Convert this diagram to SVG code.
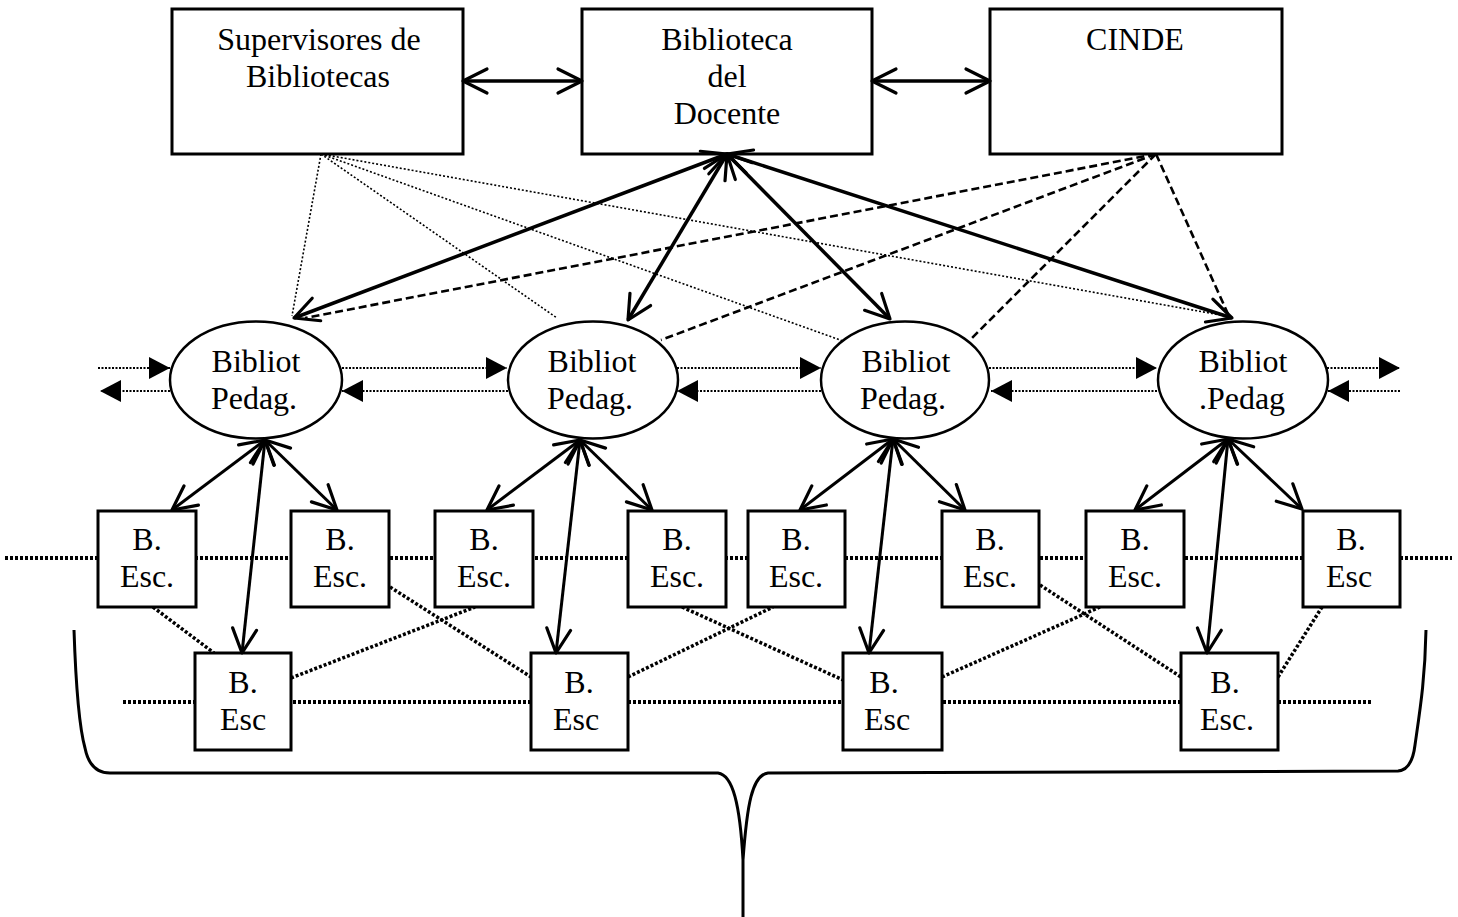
<svg xmlns="http://www.w3.org/2000/svg" width="1458" height="917" viewBox="0 0 1458 917">
<style>
text{font-family:"Liberation Serif","Times New Roman",serif;font-size:32px;fill:#000;text-anchor:middle}
.box{fill:#fff;stroke:#000;stroke-width:3}
.ell{fill:#fff;stroke:#000;stroke-width:2.5}
.solid{fill:none;stroke:#000;stroke-width:3.5;marker-start:url(#open);marker-end:url(#open)}
.solid2{fill:none;stroke:#000;stroke-width:3;marker-start:url(#open);marker-end:url(#open)}
.sup{fill:none;stroke:#000;stroke-width:1.6;stroke-dasharray:2 2}
.cinde{fill:none;stroke:#000;stroke-width:2.6;stroke-dasharray:8 4}
.harr{fill:none;stroke:#000;stroke-width:2.2;stroke-dasharray:2 1.5;marker-end:url(#tri)}
.hdot{fill:none;stroke:#000;stroke-width:4;stroke-dasharray:3 2}
.ddot{fill:none;stroke:#000;stroke-width:3.5;stroke-dasharray:3 2}
.brace{fill:none;stroke:#000;stroke-width:3}
</style>
<defs>
<marker id="open" viewBox="0 0 30 30" refX="27" refY="15" markerWidth="30" markerHeight="30" markerUnits="userSpaceOnUse" orient="auto-start-reverse" overflow="visible">
<path d="M3,3 L27,15 L3,27" fill="none" stroke="#000" stroke-width="3.2" stroke-linecap="round" stroke-linejoin="round"/>
</marker>
<marker id="tri" viewBox="0 0 21 22" refX="21" refY="11" markerWidth="21" markerHeight="22" markerUnits="userSpaceOnUse" orient="auto" overflow="visible">
<path d="M0,0 L21,11 L0,22 Z" fill="#000"/>
</marker>
</defs>

<g id="background-lines">
<path class="hdot" d="M5,558 H1452"/>
<path class="hdot" d="M123,702 H1372"/>
</g>

<g id="connectors">
<!-- Supervisores dotted -->
<path class="sup" d="M321,154 L292,316"/>
<path class="sup" d="M321,154 L557,318"/>
<path class="sup" d="M321,154 L843,341"/>
<path class="sup" d="M321,154 L1226,316"/>
<!-- CINDE dashed -->
<path class="cinde" d="M1156,154 L305,318"/>
<path class="cinde" d="M1156,154 L661,340"/>
<path class="cinde" d="M1156,154 L970,340"/>
<path class="cinde" d="M1156,154 L1228,314"/>
<!-- diagonal dotted between rows -->
<path class="ddot" d="M153,607 L214,653"/>
<path class="ddot" d="M291,678 L475,607"/>
<path class="ddot" d="M390,587 L531,677"/>
<path class="ddot" d="M628,677 L773,607"/>
<path class="ddot" d="M682,607 L843,680"/>
<path class="ddot" d="M942,677 L1100,607"/>
<path class="ddot" d="M1040,585 L1181,677"/>
<path class="ddot" d="M1278,677 L1322,607"/>
<!-- horizontal arrows between ellipses -->
<path class="harr" d="M98,368 H170"/>
<path class="harr" d="M170,391 H100"/>
<path class="harr" d="M342,368 H507"/>
<path class="harr" d="M508,391 H342"/>
<path class="harr" d="M677,368 H821"/>
<path class="harr" d="M821,391 H677"/>
<path class="harr" d="M989,368 H1157"/>
<path class="harr" d="M1157,391 H991"/>
<path class="harr" d="M1327,368 H1400"/>
<path class="harr" d="M1400,391 H1328"/>
</g>

<g id="supervisores">
<rect class="box" x="172" y="9" width="291" height="145"/>
<text x="319" y="50">Supervisores de</text>
<text x="318" y="87">Bibliotecas</text>
</g>
<g id="biblioteca-docente">
<rect class="box" x="582" y="9" width="290" height="145"/>
<text x="727" y="50">Biblioteca</text>
<text x="727" y="87">del</text>
<text x="727" y="124">Docente</text>
</g>
<g id="cinde">
<rect class="box" x="990" y="9" width="292" height="145"/>
<text x="1135" y="50">CINDE</text>
</g>

<g id="bp1"><ellipse class="ell" cx="256" cy="380" rx="86" ry="58.5"/><text x="256" y="372">Bibliot</text><text x="254" y="409">Pedag.</text></g>
<g id="bp2"><ellipse class="ell" cx="593" cy="380" rx="85" ry="58.5"/><text x="592" y="372">Bibliot</text><text x="590" y="409">Pedag.</text></g>
<g id="bp3"><ellipse class="ell" cx="905" cy="380" rx="84" ry="58.5"/><text x="906" y="372">Bibliot</text><text x="903" y="409">Pedag.</text></g>
<g id="bp4"><ellipse class="ell" cx="1243" cy="380" rx="85" ry="58.5"/><text x="1243" y="372">Bibliot</text><text x="1242" y="409">.Pedag</text></g>

<g id="be1"><rect class="box" x="98" y="511" width="98" height="96"/><text x="147" y="550">B.</text><text x="147" y="587">Esc.</text></g>
<g id="be2"><rect class="box" x="291" y="511" width="98" height="96"/><text x="340" y="550">B.</text><text x="340" y="587">Esc.</text></g>
<g id="be3"><rect class="box" x="435" y="511" width="98" height="96"/><text x="484" y="550">B.</text><text x="484" y="587">Esc.</text></g>
<g id="be4"><rect class="box" x="628" y="511" width="98" height="96"/><text x="677" y="550">B.</text><text x="677" y="587">Esc.</text></g>
<g id="be5"><rect class="box" x="748" y="511" width="97" height="96"/><text x="796" y="550">B.</text><text x="796" y="587">Esc.</text></g>
<g id="be6"><rect class="box" x="942" y="511" width="97" height="96"/><text x="990" y="550">B.</text><text x="990" y="587">Esc.</text></g>
<g id="be7"><rect class="box" x="1086" y="511" width="98" height="96"/><text x="1135" y="550">B.</text><text x="1135" y="587">Esc.</text></g>
<g id="be8"><rect class="box" x="1303" y="511" width="97" height="96"/><text x="1351" y="550">B.</text><text x="1349" y="587">Esc</text></g>

<g id="bl1"><rect class="box" x="195" y="653" width="96" height="97"/><text x="243" y="693">B.</text><text x="243" y="730">Esc</text></g>
<g id="bl2"><rect class="box" x="531" y="653" width="97" height="97"/><text x="579" y="693">B.</text><text x="576" y="730">Esc</text></g>
<g id="bl3"><rect class="box" x="843" y="653" width="99" height="97"/><text x="884" y="693">B.</text><text x="887" y="730">Esc</text></g>
<g id="bl4"><rect class="box" x="1181" y="653" width="97" height="97"/><text x="1225" y="693">B.</text><text x="1227" y="730">Esc.</text></g>

<g id="solid-connectors">
<path class="solid" d="M463,81 H582"/>
<path class="solid" d="M872,81 H990"/>
<path class="solid" d="M727,154 L294,318"/>
<path class="solid" d="M727,154 L628,320"/>
<path class="solid" d="M727,154 L890,319"/>
<path class="solid" d="M727,154 L1232,318"/>
<path class="solid2" d="M265,440 L172,510"/>
<path class="solid2" d="M265,440 L337,510"/>
<path class="solid2" d="M265,440 L242,653"/>
<path class="solid2" d="M580,440 L487,510"/>
<path class="solid2" d="M580,440 L652,510"/>
<path class="solid2" d="M580,440 L556,653"/>
<path class="solid2" d="M893,439 L800,510"/>
<path class="solid2" d="M893,439 L965,510"/>
<path class="solid2" d="M893,439 L869,653"/>
<path class="solid2" d="M1228,439 L1135,510"/>
<path class="solid2" d="M1228,439 L1302,509"/>
<path class="solid2" d="M1228,439 L1207,653"/>
</g>

<g id="brace">
<path class="brace" d="M74,630 C76,690 80,730 85,748 Q90,773 110,773 L718,773 C733,775 740,805 743,860 L743,917 M743,860 C747,805 752,775 768,773 L1398,771 Q1412,770 1415,745 C1420,710 1425,680 1426,630"/>
</g>
</svg>
